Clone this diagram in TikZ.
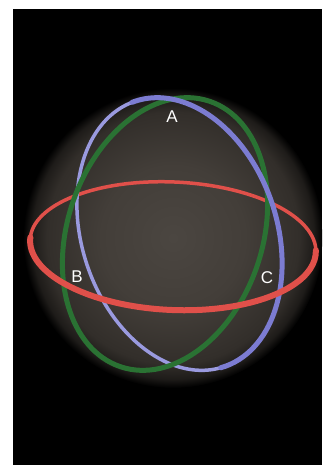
\documentclass[tikz,border=0pt]{standalone}
\usepackage{fontspec}
\setmainfont{Liberation Sans}
\definecolor{sphc}{HTML}{4B4641}
\definecolor{sphm}{HTML}{433E39}
\definecolor{sphe}{HTML}{322E2A}
\definecolor{bluefront}{HTML}{7C7CD2}
\definecolor{blueback}{HTML}{9A9ADF}
\definecolor{greenring}{HTML}{2A7233}
\definecolor{redring}{HTML}{E0504A}
\pgfdeclareradialshading{spheresh}{\pgfpoint{0bp}{0bp}}{color(0bp)=(sphc); color(12bp)=(sphm); color(21bp)=(sphe); color(23.5bp)=(sphe!60!black); color(25bp)=(black); color(50bp)=(black)}
\tikzset{
  redback/.style={draw=redring, line width=3.5pt, line cap=round},
  redfront/.style={draw=redring, line width=6pt, line cap=round},
  bluebackring/.style={draw=blueback, line width=3.5pt, line cap=round},
  bluefrontring/.style={draw=bluefront, line width=5pt, line cap=round},
  greenstyle/.style={draw=greenring, line width=5pt},
  lab/.style={text=white, font=\fontsize{17}{17}\selectfont, inner sep=0pt}
}
\begin{document}
\begin{tikzpicture}[x=1pt,y=1pt]
\useasboundingbox (0,0) rectangle (322,465);
\fill[white] (0,0) rectangle (322,465);
\fill[black] (13,0) rectangle (322,456);
\begin{scope}
\clip (13,0) rectangle (322,456);
\shade[shading=spheresh] (173,227) circle (150);
\end{scope}
% red back
\begin{scope}[shift={(173,219)},rotate=-2.6]
  \draw[redback] (0:143 and 64) arc[start angle=0,end angle=180,x radius=143,y radius=64];
\end{scope}
% blue back
\begin{scope}[shift={(179.5,231)},rotate=18.5]
  \draw[bluebackring] (90:97.5 and 140) arc[start angle=90,end angle=270,x radius=97.5,y radius=140];
\end{scope}
% green
\begin{scope}[shift={(165,231)},rotate=-18.5]
  \draw[greenstyle] (0,0) ellipse[x radius=97.5,y radius=140];
\end{scope}
% blue front
\begin{scope}[shift={(179.5,231)},rotate=18.5]
  \draw[bluefrontring] (-92:97.5 and 140) arc[start angle=-92,end angle=92,x radius=97.5,y radius=140];
\end{scope}
% red front
\begin{scope}[shift={(173,219)},rotate=-2.6]
  \draw[redfront] (178:143 and 64) arc[start angle=178,end angle=362,x radius=143,y radius=64];
\end{scope}
\node[lab] (A) at (172,348) {A};
\node[lab] (B) at (77,188) {B};
\node[lab] (C) at (267,187) {C};
\end{tikzpicture}
\end{document}
